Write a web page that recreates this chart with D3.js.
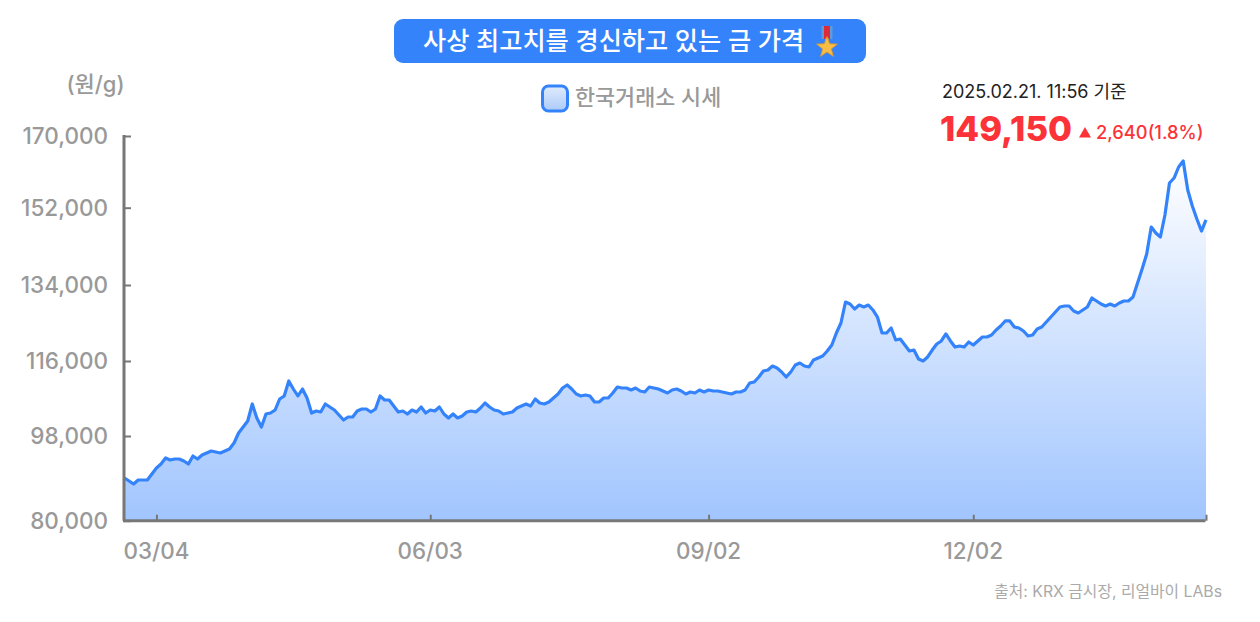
<!DOCTYPE html>
<html lang="ko"><head><meta charset="utf-8">
<script src="https://cdn.jsdelivr.net/npm/d3@7/dist/d3.min.js"></script>
<style>
html,body{margin:0;padding:0;background:#fff}
svg{display:block}
text{font-family:Inter,"Noto Sans CJK KR","Noto Sans",sans-serif}
</style></head><body><svg id="c" width="1260" height="622"></svg>
<script>
const prices = [89070,88440,87800,88650,88650,88650,89920,91200,92050,93330,92900,93110,93110,92690,92050,93750,93110,93960,94390,94810,94600,94390,94810,95240,96510,98720,100160,101600,105680,102320,100160,103280,103520,104240,106880,107600,111200,109280,107600,109280,107120,103520,104000,103760,105680,104960,104240,103040,101840,102560,102560,104000,104480,104480,103760,104480,107600,106640,106640,105200,103760,104000,103280,104240,103760,104960,103520,104240,104000,104960,103280,102320,103280,102320,102800,103760,104000,103760,104720,105920,104960,104240,104000,103280,103520,103760,104720,105200,105680,105200,106880,105920,105680,106160,107120,108080,109520,110240,109280,108080,107600,107840,107600,106160,106160,107120,107120,108320,109760,109520,109520,109040,109520,108800,108560,109760,109520,109280,108800,108320,109040,109280,108800,108080,108560,108320,109040,108560,109040,108800,108800,108560,108320,108080,108560,108560,109040,110720,110960,112160,113600,113840,114800,114320,113360,112160,113360,115040,115520,114800,114560,116240,116710,117190,118370,119790,122630,125000,129970,129500,128320,129260,128790,129260,128080,126420,122630,122630,123820,120980,121210,119790,118370,118600,116470,116000,116950,118600,120030,120740,122400,120740,119310,119550,119310,120500,119790,120740,121690,121690,122160,123340,124290,125480,125480,124050,123820,123100,121920,122160,123580,124050,125240,126420,127610,128790,129030,129030,127840,127370,128080,128790,130920,130210,129500,129030,129500,129030,129740,130210,130210,131160,134460,137720,141220,147500,146110,145180,150300,158200,159450,162220,163720,156440,152430,149370,146570,149150];
const yTicks = [80000,98000,116000,134000,152000,170000];
const xTickIndex = [7,67,128,186];
const xTickLabels = ["03/04","06/03","09/02","12/02"];
const titleText = "사상 최고치를 경신하고 있는 금 가격";
const legendText = "한국거래소 시세";
const unitText = "(원/g)";
const asOfText = "2025.02.21. 11:56 기준";
const lastPrice = "149,150";
const changeText = "2,640(1.8%)";
const sourceText = "출처: KRX 금시장, 리얼바이 LABs";

const BLUE="#3483fb", GREY="#999", AXIS="#777", RED="#fb3338";
const svg=d3.select("#c");
const x=d3.scaleLinear().domain([0,prices.length-1]).range([124.5,1206]);
// the source's vertical axis has unevenly spaced ticks
const y=d3.scaleLinear().domain(yTicks).range([520.7,436,361,285,207.7,136]);

const defs=svg.append("defs");
const g1=defs.append("linearGradient").attr("id","area").attr("gradientUnits","userSpaceOnUse")
  .attr("x1",0).attr("x2",0).attr("y1",y(d3.max(prices))).attr("y2",y(80000));
g1.append("stop").attr("offset",0).attr("stop-color","#ffffff");
g1.append("stop").attr("offset",1).attr("stop-color","#a1c5fe");
const g2=defs.append("linearGradient").attr("id","leg").attr("x1",0).attr("x2",0).attr("y1",0).attr("y2",1);
g2.append("stop").attr("offset",0).attr("stop-color","#e1ecfc");
g2.append("stop").attr("offset",1).attr("stop-color","#abc9f9");

svg.append("path").datum(prices).attr("fill","url(#area)")
  .attr("d",d3.area().x((d,i)=>x(i)).y0(y(80000)).y1(d=>y(d)));
svg.append("path").datum(prices).attr("fill","none").attr("stroke",BLUE).attr("stroke-width",3.2)
  .attr("stroke-linejoin","round")
  .attr("d",d3.line().x((d,i)=>x(i)).y(d=>y(d)));

const ax=svg.append("g").attr("transform",`translate(124,0)`)
  .call(d3.axisRight(y).tickValues(yTicks).tickSize(7).tickFormat(""));
ax.select(".domain").attr("stroke",AXIS).attr("stroke-width",3).attr("d",`M0,${y(170000)-1}V${y(80000)}`);
ax.selectAll("line").attr("stroke",AXIS).attr("stroke-width",2);
svg.append("g").selectAll("text").data(yTicks).join("text")
  .attr("x",108).attr("y",d=>y(d)).attr("dy","0.36em").attr("text-anchor","end")
  .attr("font-size",22.5).attr("fill",GREY).attr("font-weight",500).text(d3.format(","));

const bx=svg.append("g").attr("transform",`translate(0,${y(80000)})`)
  .call(d3.axisTop(x).tickValues(xTickIndex.concat([prices.length-1])).tickSize(6).tickFormat(""));
bx.select(".domain").attr("stroke",AXIS).attr("stroke-width",3).attr("d","M123,0H1205.5");
bx.selectAll("line").attr("stroke",AXIS).attr("stroke-width",2);
svg.append("g").selectAll("text").data(xTickIndex).join("text")
  .attr("x",d=>x(d)).attr("y",558.5).attr("text-anchor","middle")
  .attr("font-size",22.4).attr("fill",GREY).attr("font-weight",500).text((d,i)=>xTickLabels[i]);

svg.append("text").attr("x",95.5).attr("y",92).attr("text-anchor","middle")
  .attr("font-size",22).attr("fill",GREY).attr("font-weight",500).text(unitText);

// title pill
svg.append("rect").attr("x",394).attr("y",19).attr("width",472).attr("height",44).attr("rx",9).attr("fill",BLUE);
svg.append("text").attr("x",423).attr("y",50).attr("font-size",25.2).attr("font-weight",500)
  .attr("fill","#fff").text(titleText);
// medal
const m=svg.append("g").attr("transform","translate(827,0)");
m.append("rect").attr("x",-5.5).attr("y",26).attr("width",11).attr("height",13).attr("fill","#5f9bd8");
m.append("rect").attr("x",-3).attr("y",26).attr("width",6).attr("height",13).attr("fill","#dd2b3c");
m.append("rect").attr("x",-1.5).attr("y",38).attr("width",3).attr("height",4).attr("fill","#d79a2e");
const star=d3.range(10).map(i=>{const r=i%2?4.6:11,a=-Math.PI/2+i*Math.PI/5;return [r*Math.cos(a),47.5+r*Math.sin(a)];});
m.append("path").attr("d","M"+star.join("L")+"Z").attr("fill","#f7bd45").attr("stroke","#d9962b").attr("stroke-width",.8);

// legend
svg.append("rect").attr("x",542.5).attr("y",86).attr("width",25).attr("height",25).attr("rx",6)
  .attr("fill","url(#leg)").attr("stroke",BLUE).attr("stroke-width",3);
svg.append("text").attr("x",575).attr("y",105).attr("font-size",21.8).attr("font-weight",500).attr("fill",GREY).text(legendText);

// latest value
svg.append("text").attr("x",942).attr("y",98).attr("font-size",18).attr("fill","#222").text(asOfText);
svg.append("text").attr("x",940).attr("y",141).attr("font-size",34.7).attr("font-weight",800).attr("fill",RED).text(lastPrice);
svg.append("path").attr("fill",RED).attr("d",d3.symbol(d3.symbolTriangle,62)()).attr("transform","translate(1085,134)");
svg.append("text").attr("x",1096).attr("y",139).attr("font-size",18.3).attr("font-weight",500).attr("fill",RED).text(changeText);

svg.append("text").attr("x",1222).attr("y",597).attr("text-anchor","end").attr("font-size",15.8).attr("fill","#aaa").text(sourceText);
</script></body></html>
